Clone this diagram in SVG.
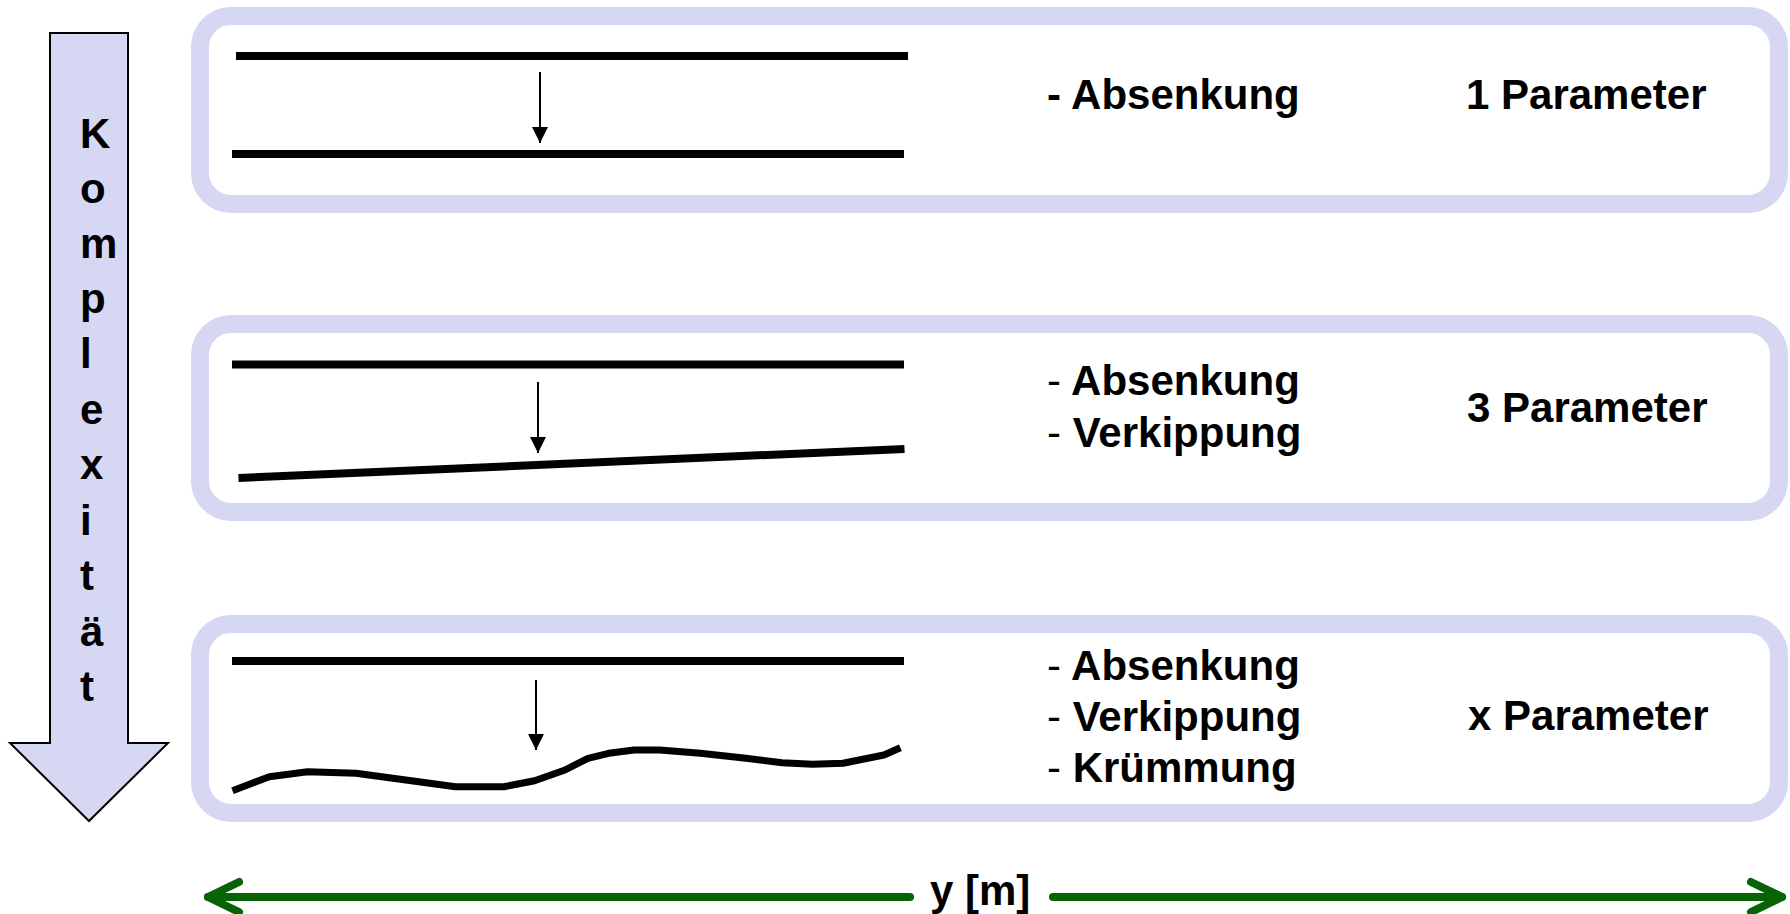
<svg xmlns="http://www.w3.org/2000/svg" width="1790" height="914" viewBox="0 0 1790 914">
<style>
.box{fill:#ffffff;stroke:#d6d7f3;stroke-width:18}
.bar{stroke:#000;stroke-width:8;fill:none}
.wave{stroke:#000;stroke-width:7;fill:none;stroke-linejoin:round}
.down{stroke:#000;stroke-width:2;fill:none}
.t{font-family:"Liberation Sans",Arial,sans-serif;font-weight:bold;font-size:42px;fill:#000}
.thin{font-weight:normal}
.col{font-family:"Liberation Sans",Arial,sans-serif;font-weight:bold;font-size:42px;fill:#000}
.g{stroke:#066406;stroke-width:8;fill:none;stroke-linecap:round;stroke-linejoin:round}
</style>
<defs>
<marker id="ah" viewBox="0 0 16 16" markerWidth="16" markerHeight="16" refX="16" refY="8" orient="auto" markerUnits="userSpaceOnUse">
<path d="M0,0 L16,8 L0,16 Z" fill="#000"/>
</marker>
</defs>

<g id="complexity-arrow">
<polygon points="50,33 128,33 128,743 168,743 89,821 10,743 50,743" fill="#d6d7f3" stroke="#000" stroke-width="2"/>
<text class="col" x="80" y="148">K</text>
<text class="col" x="80" y="203">o</text>
<text class="col" x="80" y="258">m</text>
<text class="col" x="80" y="313">p</text>
<text class="col" x="80" y="368">l</text>
<text class="col" x="80" y="424">e</text>
<text class="col" x="80" y="479">x</text>
<text class="col" x="80" y="535">i</text>
<text class="col" x="80" y="590">t</text>
<text class="col" x="80" y="646">ä</text>
<text class="col" x="80" y="701">t</text>
</g>

<g id="box1">
<rect class="box" x="200" y="16" width="1579" height="188" rx="31"/>
<line class="bar" x1="236" y1="56" x2="908" y2="56"/>
<line class="bar" x1="232" y1="154" x2="904" y2="154"/>
<line class="down" x1="540" y1="72" x2="540" y2="143" marker-end="url(#ah)"/>
<text class="t" x="1047" y="109">- Absenkung</text>
<text class="t" x="1466" y="109">1 Parameter</text>
</g>

<g id="box2">
<rect class="box" x="200" y="324" width="1579" height="188" rx="31"/>
<line class="bar" x1="232" y1="364.5" x2="904" y2="364.5"/>
<line class="bar" x1="238.5" y1="478" x2="904.5" y2="449"/>
<line class="down" x1="538" y1="382" x2="538" y2="453" marker-end="url(#ah)"/>
<text class="t" x="1047" y="395"><tspan class="thin">-</tspan> Absenkung</text>
<text class="t" x="1047" y="447"><tspan class="thin">-</tspan> Verkippung</text>
<text class="t" x="1467" y="422">3 Parameter</text>
</g>

<g id="box3">
<rect class="box" x="200" y="624" width="1579" height="189" rx="31"/>
<line class="bar" x1="232" y1="661" x2="904" y2="661"/>
<polyline class="wave" points="232.5,790.7 269.3,776.7 307.6,771.7 356,773.3 455.5,786.7 504,786.7 534.6,780.7 565,770 588,758.3 608.6,753.3 634,750 659.6,750 700.4,753.3 746,758.3 782,762.7 812.7,764.3 843,763.3 884,755 900.4,747.7"/>
<line class="down" x1="536" y1="680" x2="536" y2="750" marker-end="url(#ah)"/>
<text class="t" x="1047" y="680"><tspan class="thin">-</tspan> Absenkung</text>
<text class="t" x="1047" y="731"><tspan class="thin">-</tspan> Verkippung</text>
<text class="t" x="1047" y="782"><tspan class="thin">-</tspan> Krümmung</text>
<text class="t" x="1468" y="730">x Parameter</text>
</g>

<g id="connectors">
<line class="g" x1="208" y1="897" x2="910" y2="897"/>
<polyline class="g" points="239,882 208,897 239,912"/>
<line class="g" x1="1053" y1="897" x2="1782" y2="897"/>
<polyline class="g" points="1751,882 1782,897 1751,912"/>
</g>
<text id="axis-label" class="t" x="930" y="905">y [m]</text>
</svg>
